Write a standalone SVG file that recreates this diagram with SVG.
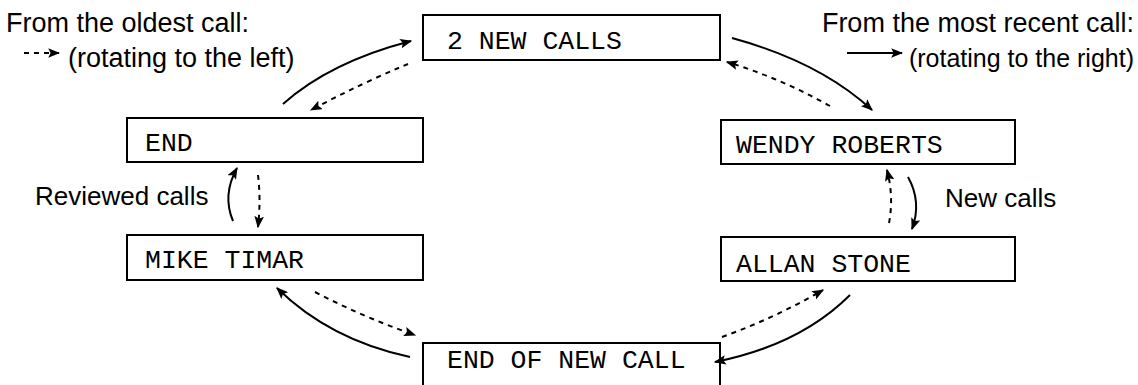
<svg xmlns="http://www.w3.org/2000/svg" width="1138" height="385" viewBox="0 0 1138 385">
<style>
.box{fill:#fff;stroke:#000;stroke-width:2}
.mono{font-family:"Liberation Mono","Courier New",monospace;font-size:26.5px;fill:#000}
.lbl{font-family:"Liberation Sans",Arial,sans-serif;font-size:27px;fill:#000}
.sol{fill:none;stroke:#000;stroke-width:2}
.dsh{fill:none;stroke:#000;stroke-width:2;stroke-dasharray:5 5}
</style>
<defs>
<marker id="ah" viewBox="0 0 10 8" refX="9" refY="4" markerWidth="12" markerHeight="9.6" markerUnits="userSpaceOnUse" orient="auto">
<path d="M0,0 L10,4 L0,8 L2,4 z" fill="#000"/>
</marker>
</defs>
<rect width="1138" height="385" fill="#fff"/>
<g id="legend">
<text class="lbl" x="6" y="32">From the oldest call:</text>
<text class="lbl" x="68" y="67">(rotating to the left)</text>
<path class="dsh" d="M24,53 L59,53" marker-end="url(#ah)"/>
<text class="lbl" x="1134" y="32" text-anchor="end">From the most recent call:</text>
<text class="lbl" x="1134" y="67" text-anchor="end" style="font-size:25px">(rotating to the right)</text>
<path class="sol" d="M847,53 L902,53" marker-end="url(#ah)"/>
<text class="lbl" x="35" y="205" style="font-size:26px">Reviewed calls</text>
<text class="lbl" x="945" y="207" style="font-size:26px">New calls</text>
</g>
<g id="n-2newcalls"><rect class="box" x="423" y="15" width="297" height="45"/><text class="mono" x="447" y="49">2 NEW CALLS</text></g>
<g id="n-end"><rect class="box" x="127" y="118" width="296" height="44"/><text class="mono" x="145" y="151">END</text></g>
<g id="n-mike"><rect class="box" x="127" y="235" width="296" height="45"/><text class="mono" x="145" y="268">MIKE TIMAR</text></g>
<g id="n-wendy"><rect class="box" x="721" y="120" width="294" height="44"/><text class="mono" x="736" y="153">WENDY ROBERTS</text></g>
<g id="n-allan"><rect class="box" x="721" y="237" width="294" height="44"/><text class="mono" x="736" y="272">ALLAN STONE</text></g>
<g id="n-endofnew"><rect class="box" x="423" y="343" width="297" height="46"/><text class="mono" x="447" y="368">END OF NEW CALL</text></g>
<g id="connectors">
<path class="sol" d="M283,104 Q330,62 411,41" marker-end="url(#ah)"/>
<path class="dsh" d="M408,64 Q362,83 311,110" marker-end="url(#ah)"/>
<path class="sol" d="M732,38 Q820,62 872,110" marker-end="url(#ah)"/>
<path class="dsh" d="M830,106 Q780,78 727,62" marker-end="url(#ah)"/>
<path class="sol" d="M233,221 Q222,195 237,168" marker-end="url(#ah)"/>
<path class="dsh" d="M258,175 Q261,200 258,227" marker-end="url(#ah)"/>
<path class="dsh" d="M889,223 Q894,197 887,170" marker-end="url(#ah)"/>
<path class="sol" d="M908,177 Q922,202 912,229" marker-end="url(#ah)"/>
<path class="sol" d="M410,357 Q330,340 277,288" marker-end="url(#ah)"/>
<path class="dsh" d="M315,292 Q365,318 415,335" marker-end="url(#ah)"/>
<path class="dsh" d="M722,337 Q775,318 823,290" marker-end="url(#ah)"/>
<path class="sol" d="M850,295 Q800,345 715,362" marker-end="url(#ah)"/>
</g>
</svg>
